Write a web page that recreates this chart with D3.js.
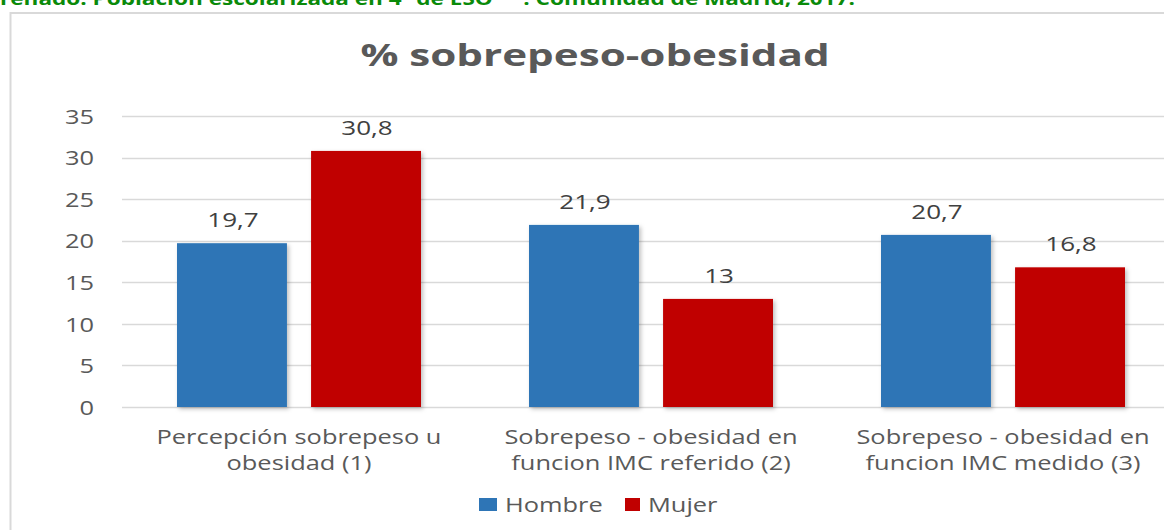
<!DOCTYPE html>
<html>
<head>
<meta charset="utf-8">
<script src="https://cdn.jsdelivr.net/npm/d3@7"></script>
<style>
  html, body { margin: 0; padding: 0; background: #fff; overflow: hidden; }
  svg { display: block; }
  text { font-family: "Open Sans", "DejaVu Sans", sans-serif; }
</style>
</head>
<body>
<div id="chart"></div>
<script>
// data
const categories = [
    ["Percepción sobrepeso u", "obesidad (1)"],
    ["Sobrepeso - obesidad en", "funcion IMC referido (2)"],
    ["Sobrepeso - obesidad en", "funcion IMC medido (3)"]
];
const seriesNames = ["Hombre", "Mujer"];
const hombre = [19.7, 21.9, 20.7];
const mujer = [30.8, 13, 16.8];
const yTicks = [0, 5, 10, 15, 20, 25, 30, 35];

const colors = { Hombre: "#2E75B6", Mujer: "#C00000" };
const textColor = "#595959";
const gridColor = "#d9d9d9";

// the source picture is stretched sideways, so text is too
const sx = 1.27;

const width = 1164, height = 530;
const margin = { left: 122, right: -14, top: 116, bottom: 123 };

const svg = d3.select("#chart").append("svg")
    .attr("width", width)
    .attr("height", height);

const defs = svg.append("defs");
const shadow = defs.append("filter").attr("id", "shadow")
    .attr("x", "-10%").attr("y", "-10%").attr("width", "130%").attr("height", "130%");
shadow.append("feDropShadow")
    .attr("dx", 2).attr("dy", 2).attr("stdDeviation", 2)
    .attr("flood-color", "#000").attr("flood-opacity", 0.25);

// header line, cut off at the top
svg.append("text")
    .attr("x", 0)
    .attr("y", 5)
    .attr("font-size", 18)
    .attr("font-weight", "bold")
    .attr("fill", "#0a8a0a")
    .attr("textLength", 855)
    .attr("lengthAdjust", "spacingAndGlyphs")
    .text("renado. Población escolarizada en 4º de ESO** . Comunidad de Madrid, 2017.");

// chart area border
svg.append("rect")
    .attr("x", 10.5).attr("y", 13)
    .attr("width", width + 20).attr("height", height)
    .attr("fill", "none")
    .attr("stroke", gridColor)
    .attr("stroke-width", 2);

// title
svg.append("text")
    .attr("transform", `translate(595,66) scale(1.36,1)`)
    .attr("text-anchor", "middle")
    .attr("font-size", 31)
    .attr("font-weight", "bold")
    .attr("fill", textColor)
    .text("% sobrepeso-obesidad");

const x0 = d3.scaleBand()
    .domain(d3.range(categories.length))
    .range([margin.left, width - margin.right]);

const x1 = d3.scaleBand()
    .domain(seriesNames)
    .range([55, x0.bandwidth() - 53])
    .paddingInner(0.18);

const y = d3.scaleLinear()
    .domain([0, 35])
    .range([height - margin.bottom, margin.top]);

// gridlines
svg.append("g")
    .selectAll("line")
    .data(yTicks)
    .join("line")
    .attr("x1", margin.left)
    .attr("x2", width)
    .attr("y1", d => Math.round(y(d)) + 0.5)
    .attr("y2", d => Math.round(y(d)) + 0.5)
    .attr("stroke", gridColor)
    .attr("stroke-width", 1.5);

// y axis labels
const yAxis = svg.append("g")
    .attr("transform", `translate(${margin.left - 28},0)`)
    .call(d3.axisLeft(y).tickValues(yTicks).tickSize(0).tickPadding(0));
yAxis.select(".domain").remove();
yAxis.selectAll("text")
    .attr("font-size", 20)
    .attr("font-family", "\"Open Sans\", sans-serif")
    .attr("fill", textColor)
    .attr("x", 0)
    .attr("dy", "0.36em")
    .attr("transform", `scale(${sx},1)`);

// bars
const rows = categories.map((c, i) => ({ i, values: [
    { key: "Hombre", value: hombre[i] },
    { key: "Mujer", value: mujer[i] }
] }));

const groups = svg.append("g")
    .selectAll("g")
    .data(rows)
    .join("g")
    .attr("transform", d => `translate(${x0(d.i)},0)`);

groups.selectAll("rect")
    .data(d => d.values)
    .join("rect")
    .attr("x", d => x1(d.key))
    .attr("y", d => y(d.value))
    .attr("width", x1.bandwidth())
    .attr("height", d => y(0) - y(d.value))
    .attr("fill", d => colors[d.key])
    .attr("filter", "url(#shadow)");

groups.selectAll("text.value")
    .data(d => d.values)
    .join("text")
    .attr("class", "value")
    .attr("transform", d => `translate(${x1(d.key) + x1.bandwidth() / 2 + 1},${y(d.value) - 16}) scale(${sx},1)`)
    .attr("text-anchor", "middle")
    .attr("font-size", 20.5)
    .attr("fill", "#404040")
    .text(d => String(d.value).replace(".", ","));

// category labels
svg.append("g")
    .selectAll("text")
    .data(categories)
    .join("text")
    .attr("transform", (d, i) => `translate(${x0(i) + x0.bandwidth() / 2 + 1},444) scale(${sx},1)`)
    .attr("text-anchor", "middle")
    .attr("font-size", 20)
    .attr("fill", textColor)
    .selectAll("tspan")
    .data(d => d)
    .join("tspan")
    .attr("x", 0)
    .attr("dy", (d, i) => i === 0 ? 0 : 26)
    .text(d => d);

// legend
const legendItems = [
    { name: seriesNames[0], x: 479, w: 18 },
    { name: seriesNames[1], x: 625, w: 15 }
];
const legend = svg.append("g")
    .selectAll("g")
    .data(legendItems)
    .join("g")
    .attr("transform", d => `translate(${d.x},498)`);
legend.append("rect")
    .attr("width", d => d.w).attr("height", 13)
    .attr("fill", d => colors[d.name]);
legend.append("text")
    .attr("transform", d => `translate(${d.w + 8},14) scale(${sx},1)`)
    .attr("font-size", 20)
    .attr("fill", textColor)
    .text(d => d.name);
</script>
</body>
</html>
